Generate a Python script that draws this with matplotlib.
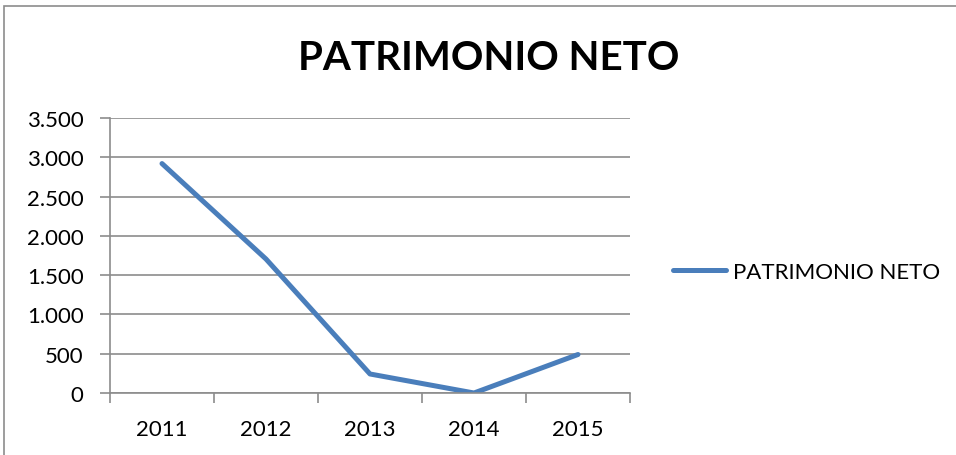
import matplotlib.pyplot as plt
from matplotlib.patches import Rectangle
from matplotlib.ticker import FuncFormatter

years = ['2011', '2012', '2013', '2014', '2015']
patrimonio = [2920, 1705, 242, 0, 490]

plt.rcParams['font.family'] = ['Lato', 'DejaVu Sans']

fig = plt.figure(figsize=(9.56, 4.56), dpi=100)
ax = fig.add_axes([110/956, 62/456, 520/956, 275/456])

# borde del gráfico (recortado a derecha y abajo)
fig.patches.append(Rectangle((4/956, -0.1), 1.2, (456-7)/456 + 0.1,
                             transform=fig.transFigure, fill=False,
                             edgecolor='#8c8c8c', linewidth=1.2))

x = range(len(years))
ax.plot(x, patrimonio, color='#4a7ebb', linewidth=3.6,
        solid_capstyle='round', solid_joinstyle='round',
        label='PATRIMONIO NETO')

ax.set_xlim(-0.5, 4.5)
ax.set_ylim(0, 3500)
ax.set_yticks(range(0, 3501, 500))
ax.yaxis.set_major_formatter(FuncFormatter(lambda v, p: f'{int(v):,}'.replace(',', '.')))

ax.set_xticks([i - 0.5 for i in range(6)])
ax.set_xticklabels([])
ax.set_xticks(list(x), minor=True)
ax.set_xticklabels(years, minor=True)
ax.tick_params(axis='x', which='major', length=7, color='#8c8c8c', width=1.2)
ax.tick_params(axis='x', which='minor', length=0, labelsize=16, pad=19)
ax.tick_params(axis='y', length=7, color='#8c8c8c', width=1.2, labelsize=16, pad=12)

ax.grid(axis='y', color='#8c8c8c', linewidth=1.2)
ax.set_axisbelow(True)
for s in ['top', 'right']:
    ax.spines[s].set_visible(False)
for s in ['left', 'bottom']:
    ax.spines[s].set_color('#8c8c8c')
    ax.spines[s].set_linewidth(1.2)

fig.text(489/956, 1 - 58/456, 'PATRIMONIO NETO', ha='center', va='center',
         fontsize=29, fontweight='bold')

ax.legend(loc='center left', bbox_to_anchor=(653/956, 1 - 273/456),
          bbox_transform=fig.transFigure, frameon=False, fontsize=16,
          handlelength=2.4, handletextpad=0.3)

fig.savefig('out.png', dpi=100)
